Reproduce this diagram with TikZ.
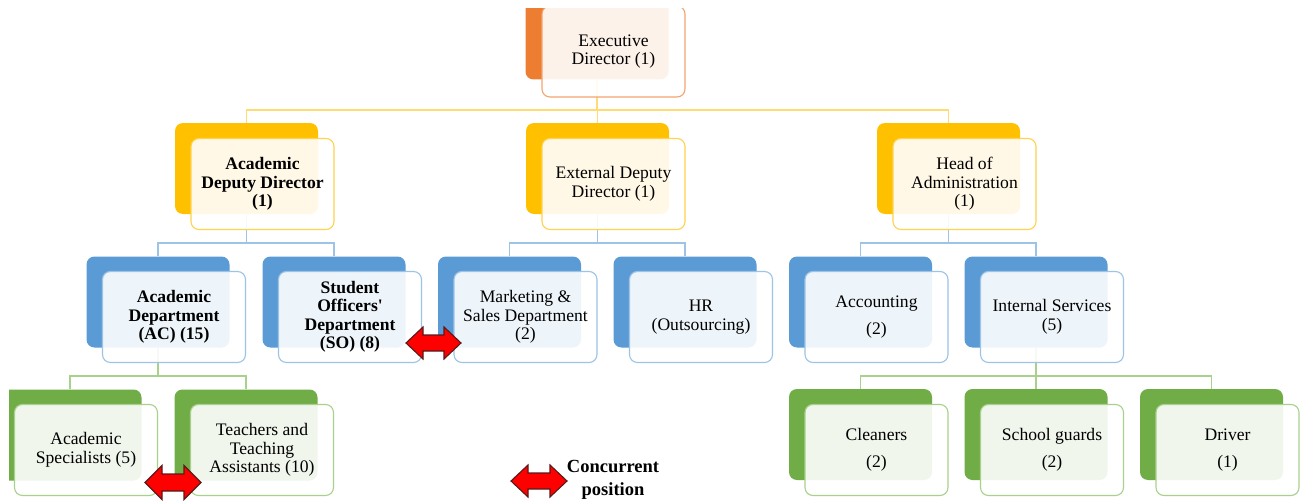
\documentclass[tikz,border=0pt]{standalone}
\usepackage{fontspec}
\setmainfont{Liberation Serif}[Ligatures=TeXOff]
\newcommand\lbl{\fontsize{17.6}{18.5}\selectfont}
\definecolor{cOr}{HTML}{ED7D31}
\definecolor{cOrF}{HTML}{F4A46E}
\definecolor{cGo}{HTML}{FFC000}
\definecolor{cGoF}{HTML}{FFD24F}
\definecolor{cGoL}{HTML}{FFDC73}
\definecolor{cBl}{HTML}{5B9BD5}
\definecolor{cBlF}{HTML}{9DC3E6}
\definecolor{cGr}{HTML}{70AD47}
\definecolor{cGrF}{HTML}{A9D18E}
\definecolor{cArr}{HTML}{5A1A1A}
\tikzset{
  backbox/.style={rounded corners=8pt, minimum width=143pt, minimum height=91pt, draw=none, inner sep=0pt},
  frontbox/.style={rounded corners=8pt, minimum width=143pt, minimum height=91pt, fill=white, fill opacity=0.9, text opacity=1, line width=1.1pt, align=center, inner sep=0pt, font=\lbl},
  yline/.style={draw=cGoL, line width=1.6pt},
  bline/.style={draw=cBlF, line width=1.6pt},
  gline/.style={draw=cGrF, line width=1.6pt},
  blockarrow/.style={fill=red, draw=cArr, line width=1.1pt, line join=miter},
}
\begin{document}
\begin{tikzpicture}[x=1pt,y=-1pt]
\useasboundingbox (0,0) rectangle (1301,503);
\fill[white] (0,0) rectangle (1301,503);
\begin{scope}
\clip (9,9) rectangle (1301,503);
% ---- back boxes
\node[backbox, fill=cOr] (edb) at (597,34) {};
\node[backbox, fill=cGo] (addb) at (246.5,168.5) {};
\node[backbox, fill=cGo] (eddb) at (597.5,168.5) {};
\node[backbox, fill=cGo] (hoab) at (948.5,168.5) {};
\node[backbox, fill=cBl] (adb) at (158,302) {};
\node[backbox, fill=cBl] (sob) at (334,302) {};
\node[backbox, fill=cBl] (mkb) at (509.5,302) {};
\node[backbox, fill=cBl] (hrb) at (685,302) {};
\node[backbox, fill=cBl] (acb) at (860.5,302) {};
\node[backbox, fill=cBl] (isb) at (1036,302) {};
\node[backbox, fill=cGr] (asb) at (70,435) {};
\node[backbox, fill=cGr] (ttb) at (246,435) {};
\node[backbox, fill=cGr] (clb) at (860.5,434.5) {};
\node[backbox, fill=cGr] (sgb) at (1036,434.5) {};
\node[backbox, fill=cGr] (drb) at (1211.5,434.5) {};
% ---- connectors
\draw[yline] (edb.south) -- ++(0,30) coordinate (j1);
\draw[yline] (j1) -| (addb.north);
\draw[yline] (j1) -| (eddb.north);
\draw[yline] (j1) -| (hoab.north);
\draw[bline] (addb.south) -- ++(0,29) coordinate (j2);
\draw[bline] (j2) -| (adb.north);
\draw[bline] (j2) -| (sob.north);
\draw[bline] (eddb.south) -- ++(0,29) coordinate (j3);
\draw[bline] (j3) -| (mkb.north);
\draw[bline] (j3) -| (hrb.north);
\draw[bline] (hoab.south) -- ++(0,29) coordinate (j4);
\draw[bline] (j4) -| (acb.north);
\draw[bline] (j4) -| (isb.north);
\draw[gline] (adb.south) -- ++(0,28.5) coordinate (j5);
\draw[gline] (j5) -| (asb.north);
\draw[gline] (j5) -| (ttb.north);
\draw[gline] (isb.south) -- ++(0,28) coordinate (j6);
\draw[gline] (j6) -| (clb.north);
\draw[gline] (j6) -| (sgb.north);
\draw[gline] (j6) -| (drb.north);
% ---- front boxes
\node[frontbox, draw=cOrF] (ed) at (613.5,51.5) {Executive\\Director (1)};
\node[frontbox, draw=cGoF] (add) at (262.5,184) {\bfseries Academic\\\bfseries Deputy Director\\\bfseries (1)};
\node[frontbox, draw=cGoF] (edd) at (613.5,184) {External Deputy\\Director (1)};
\node[frontbox, draw=cGoF] (hoa) at (964.5,184) {Head of\\Administration\\(1)};
\node[frontbox, draw=cBlF] (ad) at (174,317) {\bfseries Academic\\\bfseries Department\\\bfseries (AC) (15)};
\node[frontbox, draw=cBlF] (so) at (350,317) {\bfseries Student\\\bfseries Officers'\\\bfseries Department\\\bfseries (SO) (8)};
\node[frontbox, draw=cBlF] (mk) at (525.5,317) {Marketing \&\\Sales Department\\(2)};
\node[frontbox, draw=cBlF] (hr) at (701,317) {HR\\(Outsourcing)};
\node[frontbox, draw=cBlF] (ac) at (876.5,317) {Accounting\\[8.5pt](2)};
\node[frontbox, draw=cBlF] (is) at (1052,317) {Internal Services\\(5)};
\node[frontbox, draw=cGrF] (as) at (86,450) {Academic\\Specialists (5)};
\node[frontbox, draw=cGrF] (tt) at (262,450) {Teachers and\\Teaching\\Assistants (10)};
\node[frontbox, draw=cGrF] (cl) at (876.5,450) {Cleaners\\[8.5pt](2)};
\node[frontbox, draw=cGrF] (sg) at (1052,450) {School guards\\[8.5pt](2)};
\node[frontbox, draw=cGrF] (dr) at (1227.5,450) {Driver\\[8.5pt](1)};
% ---- concurrent arrows
\draw[blockarrow] (406,343) -- ++(17,-16) -- ++(0,8) -- ++(21,0) -- ++(0,-8) -- ++(17,16) -- ++(-17,16) -- ++(0,-8) -- ++(-21,0) -- ++(0,8) -- cycle;
\draw[blockarrow] (145,482.5) -- ++(17,-17) -- ++(0,8.5) -- ++(22,0) -- ++(0,-8.5) -- ++(17,17) -- ++(-17,17) -- ++(0,-8.5) -- ++(-22,0) -- ++(0,8.5) -- cycle;
\end{scope}
% ---- legend
\draw[blockarrow] (511,481) -- ++(17,-16) -- ++(0,8) -- ++(22,0) -- ++(0,-8) -- ++(17,16) -- ++(-17,16) -- ++(0,-8) -- ++(-22,0) -- ++(0,8) -- cycle;
\node[font=\fontsize{18.5}{23}\selectfont\bfseries, align=center, inner sep=0pt] (legend) at (613,480) {Concurrent\\position};
\end{tikzpicture}
\end{document}
